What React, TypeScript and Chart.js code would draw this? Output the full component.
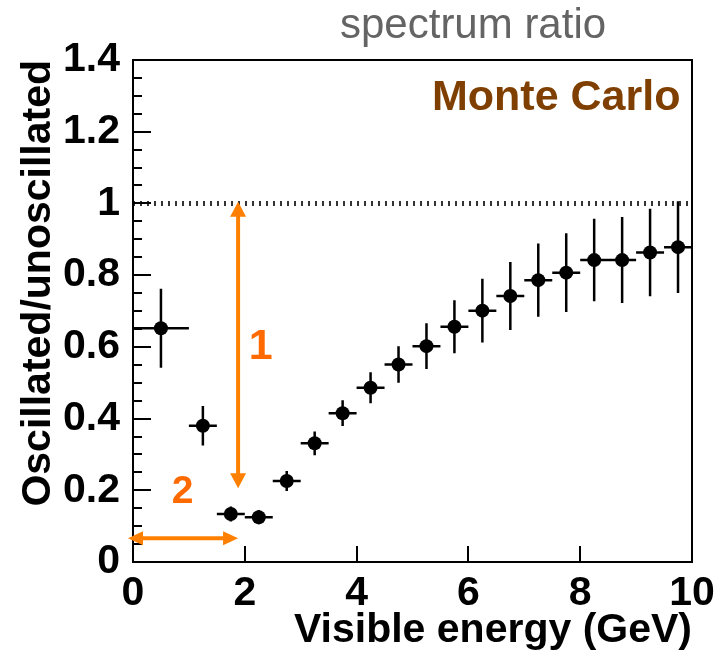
import { useEffect, useRef } from 'react';
import { Chart, registerables } from 'chart.js';

Chart.register(...registerables);

// ---- data ----
const binEdges = [0, 1, 1.5, 2, 2.5, 3, 3.5, 4, 4.5, 5, 5.5, 6, 6.5, 7, 7.5, 8, 8.5, 9, 9.5, 10];
const energyCenters = [0.5, 1.25, 1.75, 2.25, 2.75, 3.25, 3.75, 4.25, 4.75, 5.25, 5.75, 6.25, 6.75, 7.25, 7.75, 8.25, 8.75, 9.25, 9.75];
const ratioValues = [0.652, 0.38, 0.134, 0.125, 0.226, 0.331, 0.415, 0.486, 0.551, 0.602, 0.656, 0.701, 0.742, 0.786, 0.807, 0.842, 0.842, 0.863, 0.878];
const ratioErrors = [0.11, 0.055, 0.021, 0.02, 0.028, 0.033, 0.036, 0.043, 0.051, 0.064, 0.074, 0.089, 0.095, 0.102, 0.11, 0.115, 0.12, 0.122, 0.128];
const referenceX = [0, 10];
const referenceY = [1, 1];

const xTickValues = [0, 2, 4, 6, 8, 10];
const xTickLabels = ['0', '2', '4', '6', '8', '10'];
const yTickValues = [0, 0.2, 0.4, 0.6, 0.8, 1, 1.2, 1.4];
const yTickLabels = ['0', '0.2', '0.4', '0.6', '0.8', '1', '1.2', '1.4'];
const yMinorTickValues = [0.05, 0.1, 0.15, 0.25, 0.3, 0.35, 0.45, 0.5, 0.55, 0.65, 0.7, 0.75, 0.85, 0.9, 0.95, 1.05, 1.1, 1.15, 1.25, 1.3, 1.35];

// annotation anchors (data coordinates)
const gapArrow = { x: 1.88, yTop: 1.005, yBottom: 0.206 };
const widthArrow = { y: 0.066, xLeft: -0.09, xRight: 1.88 };
const gapLabel = { text: '1', x: 2.286, y: 0.565 };
const widthLabel = { text: '2', x: 0.885, y: 0.165 };

const FAMILY = "'Liberation Sans', Arial, Helvetica, sans-serif";
const ORANGE = '#ff8000';
const ORANGE_TEXT = '#ff6a00';

function arrowHead(ctx: CanvasRenderingContext2D, tx: number, ty: number, dx: number, dy: number, len: number, hw: number) {
  const bx = tx - dx * len;
  const by = ty - dy * len;
  ctx.beginPath();
  ctx.moveTo(tx, ty);
  ctx.lineTo(bx - dy * hw, by + dx * hw);
  ctx.lineTo(bx + dy * hw, by - dx * hw);
  ctx.closePath();
  ctx.fill();
}

const rootStyle = {
  id: 'rootStyle',
  beforeDatasetsDraw(chart: any) {
    const { ctx, scales } = chart;
    const x = scales.x;
    const y = scales.y;
    ctx.save();
    ctx.strokeStyle = '#000';
    ctx.lineWidth = 2.5;
    ctx.beginPath();
    energyCenters.forEach((c: number, i: number) => {
      const px = x.getPixelForValue(c);
      const py = y.getPixelForValue(ratioValues[i]);
      ctx.moveTo(x.getPixelForValue(binEdges[i]), py);
      ctx.lineTo(x.getPixelForValue(binEdges[i + 1]), py);
      ctx.moveTo(px, y.getPixelForValue(ratioValues[i] - ratioErrors[i]));
      ctx.lineTo(px, y.getPixelForValue(ratioValues[i] + ratioErrors[i]));
    });
    ctx.stroke();
    ctx.restore();
  },
  afterDatasetsDraw(chart: any) {
    const { ctx, chartArea: a, scales } = chart;
    const x = scales.x;
    const y = scales.y;
    ctx.save();
    // frame
    ctx.strokeStyle = '#000';
    ctx.lineWidth = 2;
    ctx.strokeRect(a.left, a.top, a.right - a.left, a.bottom - a.top);
    // inward ticks
    ctx.beginPath();
    yTickValues.forEach((v) => {
      const py = Math.round(y.getPixelForValue(v));
      ctx.moveTo(a.left, py);
      ctx.lineTo(a.left + 18, py);
    });
    yMinorTickValues.forEach((v) => {
      const py = Math.round(y.getPixelForValue(v));
      ctx.moveTo(a.left, py);
      ctx.lineTo(a.left + 9, py);
    });
    xTickValues.forEach((v) => {
      const px = Math.round(x.getPixelForValue(v));
      ctx.moveTo(px, a.bottom);
      ctx.lineTo(px, a.bottom - 16);
    });
    ctx.stroke();

    // orange arrows
    ctx.strokeStyle = ORANGE;
    ctx.fillStyle = ORANGE;
    ctx.lineWidth = 4;
    const ax = x.getPixelForValue(gapArrow.x);
    const aTop = y.getPixelForValue(gapArrow.yTop);
    const aBot = y.getPixelForValue(gapArrow.yBottom);
    ctx.beginPath();
    ctx.moveTo(ax, aTop + 14);
    ctx.lineTo(ax, aBot - 14);
    ctx.stroke();
    arrowHead(ctx, ax, aTop, 0, -1, 15, 8);
    arrowHead(ctx, ax, aBot, 0, 1, 15, 8);

    const hy = y.getPixelForValue(widthArrow.y);
    const hl = x.getPixelForValue(widthArrow.xLeft);
    const hr = x.getPixelForValue(widthArrow.xRight);
    ctx.beginPath();
    ctx.moveTo(hl + 14, hy);
    ctx.lineTo(hr - 14, hy);
    ctx.stroke();
    arrowHead(ctx, hl, hy, -1, 0, 15, 7);
    arrowHead(ctx, hr, hy, 1, 0, 15, 7);

    // orange labels
    ctx.fillStyle = ORANGE_TEXT;
    ctx.textAlign = 'center';
    ctx.textBaseline = 'alphabetic';
    ctx.font = `bold 43px ${FAMILY}`;
    ctx.fillText(gapLabel.text, x.getPixelForValue(gapLabel.x), y.getPixelForValue(gapLabel.y));
    ctx.font = `bold 39px ${FAMILY}`;
    ctx.fillText(widthLabel.text, x.getPixelForValue(widthLabel.x), y.getPixelForValue(widthLabel.y));

    // Monte Carlo tag
    ctx.textAlign = 'left';
    ctx.fillStyle = '#7f3f00';
    ctx.font = `bold 43px ${FAMILY}`;
    ctx.fillText('Monte Carlo', 432, 110);

    // header
    ctx.fillStyle = '#646464';
    ctx.font = `42px ${FAMILY}`;
    ctx.fillText('spectrum ratio', 340, 38);
    ctx.restore();
  },
};

export default function App() {
  const ref = useRef<HTMLCanvasElement | null>(null);

  useEffect(() => {
    if (!ref.current) return;
    const tickFont = { family: FAMILY, size: 41, weight: 'bold' as const, lineHeight: 1.14 };
    const titleFont = { family: FAMILY, size: 41, weight: 'bold' as const, lineHeight: 1 };
    const chart = new Chart(ref.current, {
      type: 'scatter',
      data: {
        datasets: [
          {
            label: 'unity',
            data: referenceX.map((v, i) => ({ x: v, y: referenceY[i] })),
            showLine: true,
            borderColor: '#333',
            borderWidth: 5,
            borderDash: [2, 5],
            pointRadius: 0,
            fill: false,
          },
          {
            label: 'Oscillated/unoscillated',
            data: energyCenters.map((v, i) => ({ x: v, y: ratioValues[i] })),
            showLine: false,
            pointRadius: 7,
            pointBackgroundColor: '#000',
            pointBorderWidth: 0,
            pointBorderColor: '#000',
          },
        ],
      },
      options: {
        responsive: false,
        animation: false,
        devicePixelRatio: 1,
        layout: { padding: { left: 0, top: 60, right: 23, bottom: 0 } },
        plugins: {
          legend: { display: false },
          tooltip: { enabled: false },
          title: { display: false },
        },
        scales: {
          x: {
            type: 'linear',
            min: 0,
            max: 10,
            grid: { display: false },
            border: { display: false },
            afterBuildTicks: (s: any) => {
              s.ticks = xTickValues.map((v) => ({ value: v }));
            },
            ticks: {
              callback: (_v: any, i: number) => xTickLabels[i],
              font: tickFont,
              color: '#000',
              padding: 0,
              maxRotation: 0,
              autoSkip: false,
            },
            title: {
              display: true,
              text: 'Visible energy (GeV)',
              align: 'end',
              color: '#000',
              font: titleFont,
              padding: { top: 0, bottom: 3 },
            },
            afterFit: (s: any) => {
              s.height = 92;
              s.paddingLeft = 0;
              s.paddingRight = 0;
            },
          },
          y: {
            type: 'linear',
            min: 0,
            max: 1.4,
            grid: { display: false },
            border: { display: false },
            afterBuildTicks: (s: any) => {
              s.ticks = yTickValues.map((v) => ({ value: v }));
            },
            ticks: {
              callback: (_v: any, i: number) => yTickLabels[i],
              font: { family: FAMILY, size: 41, weight: 'bold' as const, lineHeight: 1.2 },
              color: '#000',
              padding: 5,
              autoSkip: false,
            },
            title: {
              display: true,
              text: 'Oscillated/unoscillated',
              align: 'end',
              color: '#000',
              font: titleFont,
              padding: { top: 18, bottom: 0 },
            },
            afterFit: (s: any) => {
              s.width = 133;
            },
          },
        },
      } as any,
      plugins: [rootStyle],
    });
    return () => chart.destroy();
  }, []);

  return (
    <div style={{ position: 'fixed', left: 0, top: 0, width: 715, height: 654, background: '#fff' }}>
      <canvas ref={ref} width={715} height={654} style={{ display: 'block', width: 715, height: 654 }} />
    </div>
  );
}
